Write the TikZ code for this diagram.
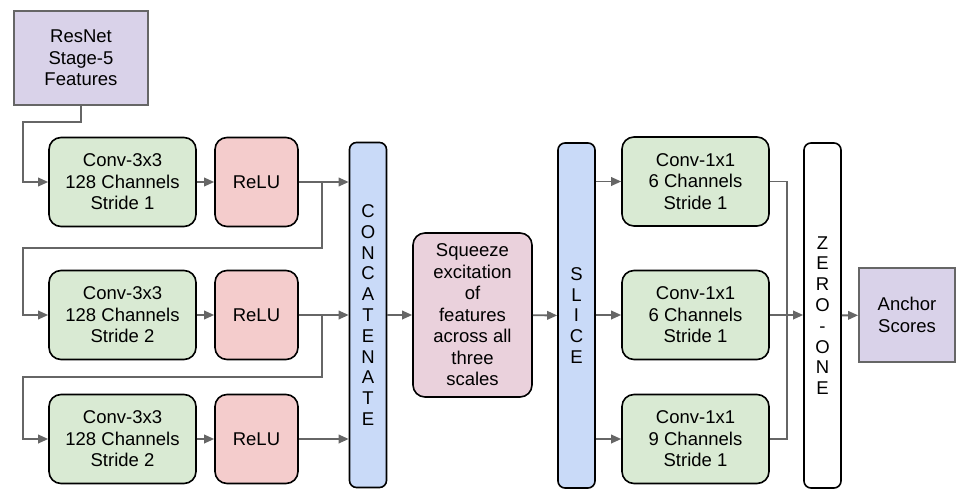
\documentclass[tikz,border=0pt]{standalone}
\usepackage{fontspec}
\setmainfont{Liberation Sans}
\usetikzlibrary{arrows.meta}
\definecolor{cgreen}{HTML}{D9EAD3}
\definecolor{cred}{HTML}{F4CCCC}
\definecolor{cblue}{HTML}{C9DAF8}
\definecolor{cpink}{HTML}{EAD1DC}
\definecolor{clav}{HTML}{D9D2E9}
\definecolor{cgray}{HTML}{666666}
\tikzset{
  box/.style={draw=black, line width=1.6pt, rounded corners=12pt, inner sep=0pt, align=center,
    font=\fontsize{18.5}{21.5}\selectfont},
  greenbox/.style={box, fill=cgreen, minimum width=147pt, minimum height=89pt},
  relubox/.style={box, fill=cred, minimum width=83pt, minimum height=89pt},
  barbox/.style={box, rounded corners=7pt, minimum width=37pt, minimum height=345pt,
    font=\fontsize{18.5}{20.8}\selectfont},
  lavbox/.style={draw=cgray, line width=1.8pt, fill=clav, inner sep=0pt, align=center,
    font=\fontsize{18.5}{21.5}\selectfont},
  conn/.style={draw=cgray, line width=1.8pt},
  arr/.style={conn, -{Triangle[length=10pt,width=8.5pt]}},
}
\begin{document}
\begin{tikzpicture}[x=1pt,y=-1pt]
\useasboundingbox (0,0) rectangle (960,500);
% nodes
\node[lavbox, minimum width=134pt, minimum height=94pt] (res) at (81,58) {ResNet\\Stage-5\\Features};
\node[greenbox] (c1) at (122.5,182) {Conv-3x3\\128 Channels\\Stride 1};
\node[greenbox] (c2) at (122.5,315) {Conv-3x3\\128 Channels\\Stride 2};
\node[greenbox] (c3) at (122.5,439) {Conv-3x3\\128 Channels\\Stride 2};
\node[relubox] (r1) at (256.5,182) {ReLU};
\node[relubox] (r2) at (256.5,315) {ReLU};
\node[relubox] (r3) at (256.5,439) {ReLU};
\node[barbox, fill=cblue] (cat) at (368,315) {C\\O\\N\\C\\A\\T\\E\\N\\A\\T\\E};
\node[box, fill=cpink, minimum width=119pt, minimum height=164pt] (sq) at (472.5,315)
  {Squeeze\\excitation\\of\\features\\across all\\three\\scales};
\node[barbox, fill=cblue] (sl) at (576.5,315.5) {S\\L\\I\\C\\E};
\node[greenbox] (k1) at (695.5,181.5) {Conv-1x1\\6 Channels\\Stride 1};
\node[greenbox] (k2) at (695.5,315) {Conv-1x1\\6 Channels\\Stride 1};
\node[greenbox] (k3) at (695.5,439) {Conv-1x1\\9 Channels\\Stride 1};
\node[barbox, fill=white] (zo) at (822.5,315.5) {Z\\E\\R\\O\\-\\O\\N\\E};
\node[lavbox, minimum width=96pt, minimum height=94pt] (an) at (907,315) {Anchor\\Scores};
% helper coordinates
\coordinate (a0) at (23,122);
\coordinate (j1) at (322,182);
\coordinate (a1) at (23,248);
\coordinate (j2) at (322,315);
\coordinate (a2) at (23,377);
\coordinate (m1) at (787,181.5);
\coordinate (m3) at (787,439);
\coordinate (m2) at (787,315);
% connectors
\draw[arr] (res.south) |- (a0) |- (c1.west);
\draw[arr] (c1) -- (r1);
\draw[arr] (c2) -- (r2);
\draw[arr] (c3) -- (r3);
\draw[arr] (r1.east) -- (r1.east -| cat.west);
\draw[arr] (r2.east) -- (r2.east -| cat.west);
\draw[arr] (r3.east) -- (r3.east -| cat.west);
\draw[arr] (j1) |- (a1) |- (c2.west);
\draw[arr] (j2) |- (a2) |- (c3.west);
\draw[arr] (cat) -- (sq);
\draw[arr] (sq) -- (sl);
\draw[arr] (sl.east |- k1) -- (k1.west);
\draw[arr] (sl.east |- k2) -- (k2.west);
\draw[arr] (sl.east |- k3) -- (k3.west);
\draw[conn] (k1.east) -- (m1) -- (m2);
\draw[conn] (k3.east) -- (m3) -- (m2);
\draw[arr] (k2.east) -- (k2.east -| zo.west);
\draw[arr] (zo) -- (an);
\end{tikzpicture}
\end{document}
